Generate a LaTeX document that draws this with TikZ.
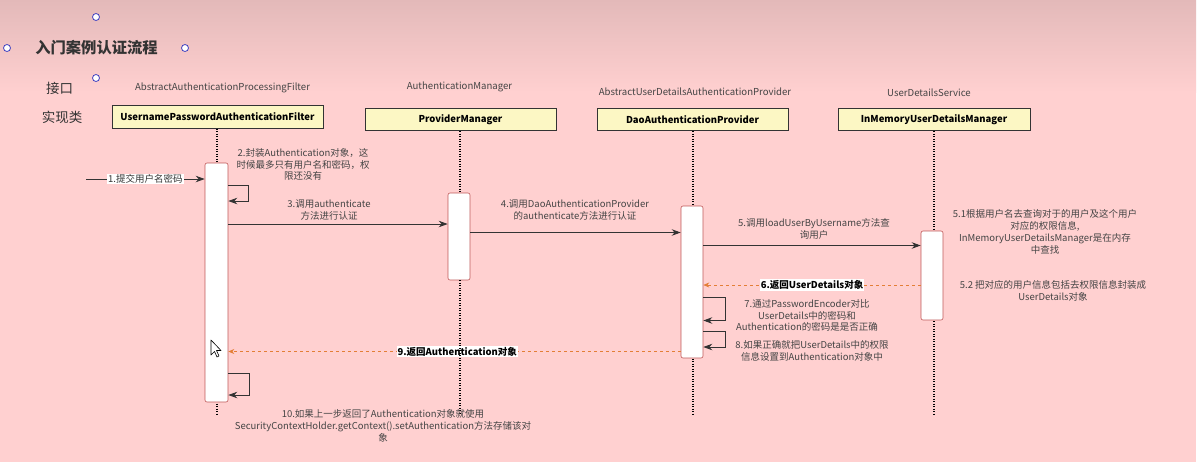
\documentclass[tikz,border=0pt]{standalone}
\usepackage{fontspec}
\setmainfont{Noto Sans CJK SC}
\usetikzlibrary{arrows.meta}
\definecolor{bgpink}{HTML}{FFD0D0}
\definecolor{bgtop}{HTML}{E3B9B9}
\definecolor{boxfill}{HTML}{FCF7C4}
\definecolor{barline}{HTML}{C05858}
\definecolor{dk}{HTML}{333333}
\definecolor{og}{HTML}{E47E36}
\definecolor{gy}{HTML}{444444}
\tikzset{
  clsbox/.style={draw=dk,fill=boxfill,line width=0.8pt,minimum height=22.5pt,font=\fontsize{9.5}{11}\selectfont\bfseries,text=black},
  iface/.style={font=\fontsize{9.6}{11}\selectfont,text=gy},
  lifeline/.style={line width=1.2pt,dash pattern=on 1.1pt off 1.4pt,black},
  actbar/.style={draw=barline,fill=white,rounded corners=2pt,line width=0.6pt},
  msg/.style={line width=0.9pt,dk,-{Stealth[length=9pt,width=6.5pt]}},
  ret/.style={line width=0.7pt,og,dashed,-{Stealth[length=6pt,width=5pt]}},
  note/.style={font=\fontsize{9.5}{11.8}\selectfont,text=gy,align=center},
  blab/.style={fill=white,inner sep=1pt,font=\fontsize{9.5}{11}\selectfont\bfseries,text=black},
  handle/.style={draw=blue!50!gray,fill=white,line width=0.8pt,circle,inner sep=0pt,minimum size=7pt},
}
\begin{document}
\begin{tikzpicture}[x=1pt,y=-1pt]
\useasboundingbox (0,0) rectangle (1199,466);
% background
\fill[white] (0,0) rectangle (1199,466);
\fill[bgpink] (0,0) rectangle (1196,462);
\shade[top color=bgtop,bottom color=bgpink] (0,0) rectangle (1196,92);
% handles and title
\node[handle] (h1) at (96,17) {};
\node[handle] (h2) at (7,48) {};
\node[handle] (h3) at (185,48) {};
\node[handle] (h4) at (96,78) {};
\node[font=\fontsize{15.3}{17}\selectfont\bfseries,text=dk] (title) at (96.5,48) {入门案例认证流程};
\node[font=\fontsize{13.5}{15}\selectfont,text=dk] (lbl1) at (59.5,88.5) {接口};
\node[font=\fontsize{13.5}{15}\selectfont,text=dk] (lbl2) at (62,117) {实现类};
% interface labels
\node[iface] (i1) at (222.5,88) {AbstractAuthenticationProcessingFilter};
\node[iface] (i2) at (459.5,87) {AuthenticationManager};
\node[iface] (i3) at (695,92) {AbstractUserDetailsAuthenticationProvider};
\node[iface] (i4) at (929,93) {UserDetailsService};
% class boxes
\node[clsbox,minimum width=211pt] (c1) at (217.5,117) {UsernamePasswordAuthenticationFilter};
\node[clsbox,minimum width=191pt] (c2) at (460.5,119.5) {ProviderManager};
\node[clsbox,minimum width=191pt] (c3) at (692.5,119.5) {DaoAuthenticationProvider};
\node[clsbox,minimum width=192pt] (c4) at (934,119.5) {InMemoryUserDetailsManager};
% lifelines
\coordinate (e1) at (217,414);
\coordinate (e2) at (460,414);
\coordinate (e3) at (693,414);
\coordinate (e4) at (934,414);
\draw[lifeline] (c1.south -| e1) -- (e1);
\draw[lifeline] (c3.south -| e3) -- (e3);
\draw[lifeline] (c4.south -| e4) -- (e4);
% activation bars
\node[actbar,minimum width=23pt,minimum height=239pt,inner sep=0pt] (b1) at (216.5,282.5) {};
\node[actbar,minimum width=22pt,minimum height=87pt,inner sep=0pt] (b2) at (459,236.5) {};
\node[actbar,minimum width=22pt,minimum height=152pt,inner sep=0pt] (b3) at (692,282) {};
\node[actbar,minimum width=22pt,minimum height=89pt,inner sep=0pt] (b4) at (932,275.5) {};
\draw[lifeline] (c2.south -| e2) -- (b2.north -| e2);
% 1
\coordinate (s1) at (86,179);
\draw[msg] (s1) -- (s1 -| b1.west) node[midway,fill=white,inner sep=1pt,font=\fontsize{9.5}{11}\selectfont,text=dk] (t1) {1.提交用户名密码};
% 2 self loop
\coordinate (l2a) at (248,185);
\coordinate (l2b) at (248,201);
\draw[msg] (l2a -| b1.east) -- (l2a) -- (l2b) -- (l2b -| b1.east);
\node[note] (t2) at (303,164.5) {2.封装Authentication对象，这\\时候最多只有用户名和密码，权\\限还没有};
% 3
\coordinate (y3) at (0,224);
\draw[msg] (y3 -| b1.east) -- (y3 -| b2.west);
\node[note] (t3) at (329,210) {3.调用authenticate\\方法进行认证};
% 4
\coordinate (y4) at (0,232.5);
\draw[msg] (y4 -| b2.east) -- (y4 -| b3.west);
\node[note] (t4) at (575,210) {4.调用DaoAuthenticationProvider\\的authenticate方法进行认证};
% 5
\coordinate (y5) at (0,245.5);
\draw[msg] (y5 -| b3.east) -- (y5 -| b4.west);
\node[note] (t5) at (814,228.5) {5.调用loadUserByUsername方法查\\询用户};
\node[note] (t51) at (1045,232) {5.1根据用户名去查询对于的用户及这个用户\\对应的权限信息,\\InMemoryUserDetailsManager是在内存\\中查找};
% 6
\coordinate (y6) at (0,285);
\draw[ret] (y6 -| b4.west) -- (y6 -| b3.east) node[midway,blab] (t6) {6.返回UserDetails对象};
\node[note] (t52) at (1053,290.5) {5.2 把对应的用户信息包括去权限信息封装成\\UserDetails对象};
% 7 self loop
\coordinate (l7a) at (725,297);
\coordinate (l7b) at (725,320.5);
\draw[msg] (l7a -| b3.east) -- (l7a) -- (l7b) -- (l7b -| b3.east);
\node[note] (t7) at (807,315.5) {7.通过PasswordEncoder对比\\UserDetails中的密码和\\Authentication的密码是是否正确};
% 8 self loop
\coordinate (l8a) at (725,331);
\coordinate (l8b) at (725,347);
\draw[msg] (l8a -| b3.east) -- (l8a) -- (l8b) -- (l8b -| b3.east);
\node[note] (t8) at (812,351) {8.如果正确就把UserDetails中的权限\\信息设置到Authentication对象中};
% 9
\coordinate (y9) at (0,351.5);
\draw[ret] (y9 -| b3.west) -- (y9 -| b1.east) node[pos=0.494,blab] (t9) {9.返回Authentication对象};
% lifeline 2 below its bar, over label 9
\draw[lifeline] (b2.south -| e2) -- (e2);
% 10 self loop
\coordinate (l10a) at (249,373);
\coordinate (l10b) at (249,395);
\draw[msg] (l10a -| b1.east) -- (l10a) -- (l10b) -- (l10b -| b1.east);
\node[note] (t10) at (383,426) {10.如果上一步返回了Authentication对象就使用\\SecurityContextHolder.getContext().setAuthentication方法存储该对\\象};
% mouse cursor
\draw[black,fill=white,line width=0.6pt,line join=round] (211,340) -- (211,355) -- (214.5,351.5) -- (217,357) -- (219,356) -- (216.5,350.5) -- (221,350.5) -- cycle;
\end{tikzpicture}
\end{document}
